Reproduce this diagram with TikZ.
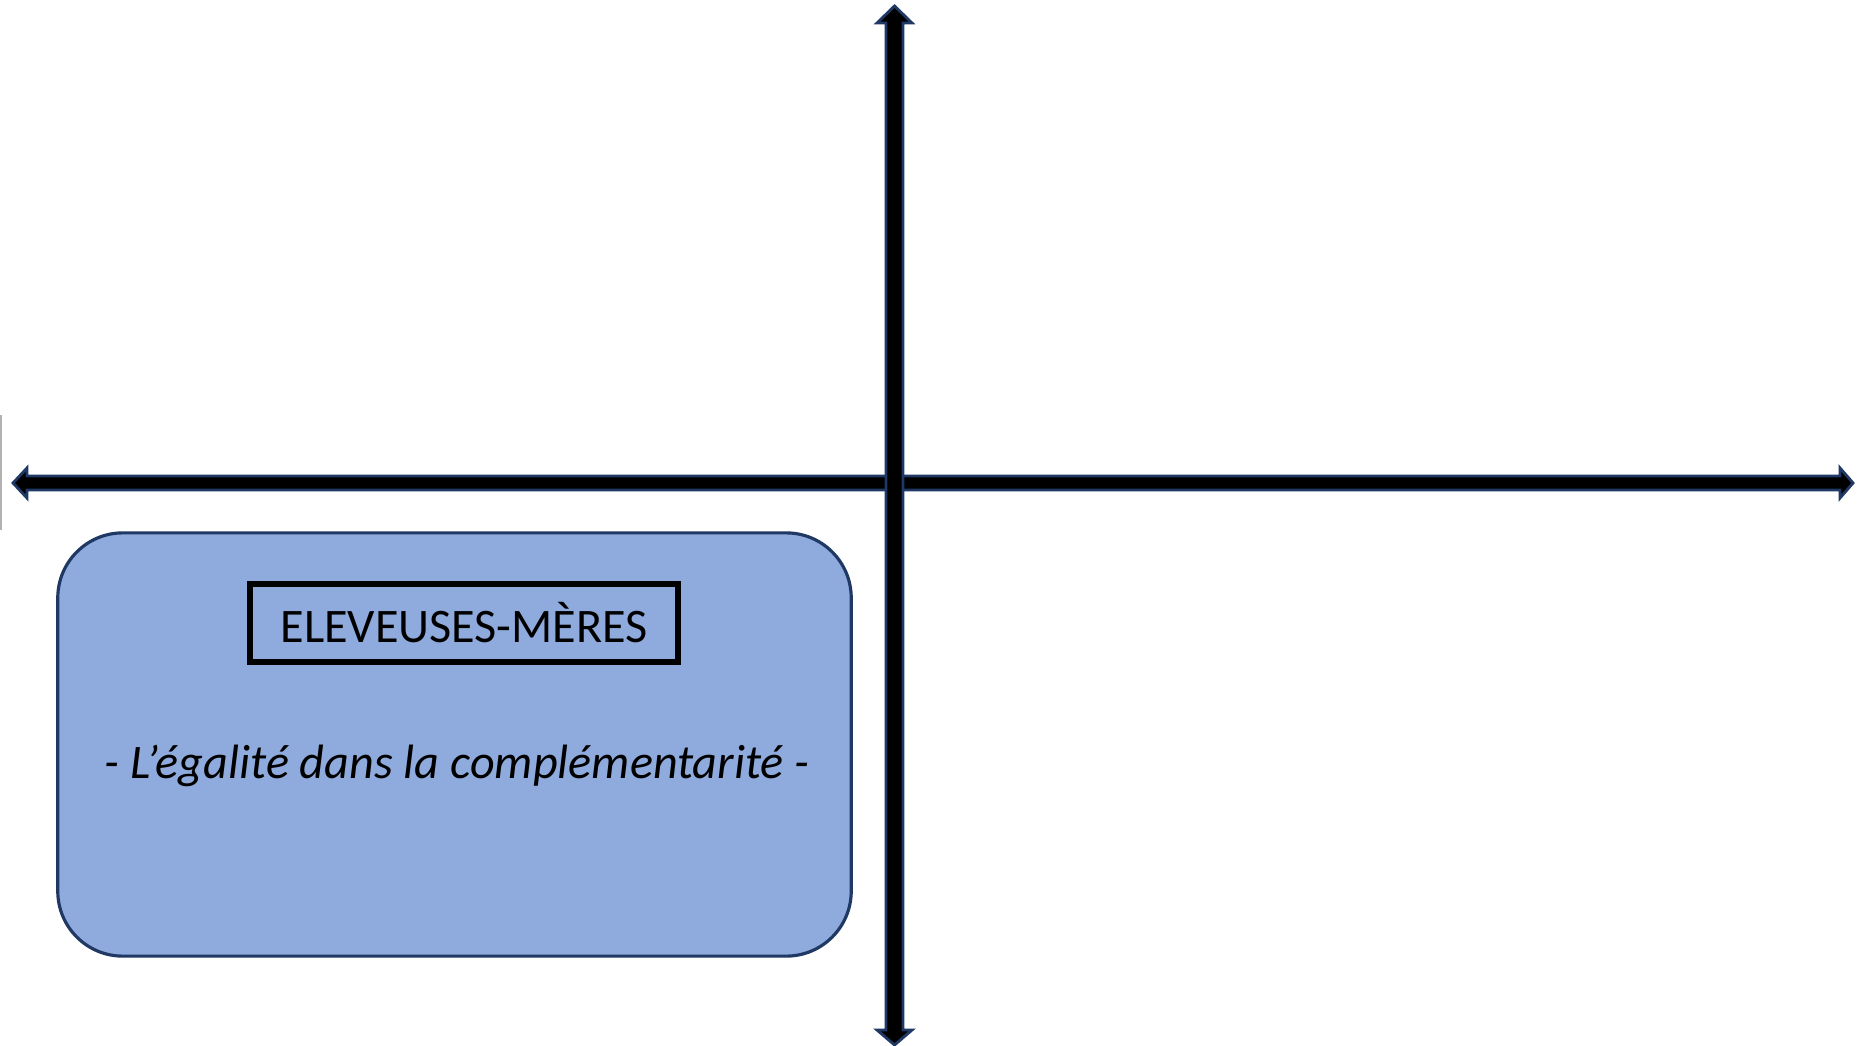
\documentclass[tikz,border=0pt]{standalone}
\usepackage{fontspec}
\setmainfont{Carlito}
\definecolor{bleucadre}{HTML}{8FAADC}
\definecolor{marine}{HTML}{1F3864}
\tikzset{
  axe/.style={fill=black, draw=marine, line width=0.8pt, line join=miter},
  cadre/.style={rectangle, rounded corners=0.65cm, fill=bleucadre, draw=marine,
    line width=0.9pt, minimum width=7.93cm, minimum height=4.23cm},
  titre/.style={rectangle, draw=black, line width=1.8pt, minimum width=4.28cm,
    minimum height=0.78cm, font=\fontsize{13.7}{16}\selectfont},
  devise/.style={font=\fontsize{13.7}{16}\selectfont\itshape}
}
\begin{document}
\begin{tikzpicture}[x=0.01cm, y=-0.01cm]
    \useasboundingbox (0,0) rectangle (1858,1046);
    % trait gris au bord gauche
    \draw[gray!60, line width=0.4pt] (1,415) -- (1,530);
    % axe horizontal
    \filldraw[axe] (13,483) -- (27,468) -- (27,476) -- (1840,476) -- (1840,468)
      -- (1853,483) -- (1840,498) -- (1840,490) -- (27,490) -- (27,498) -- cycle;
    % axe vertical (par-dessus)
    \filldraw[axe] (894.5,6) -- (912,23) -- (903,23) -- (903,1030) -- (912,1030)
      -- (894.5,1045) -- (877,1030) -- (886,1030) -- (886,23) -- (877,23) -- cycle;
    % cadre en bas a gauche
    \node[cadre] (meres) at (454.5,744.5) {};
    \node[titre] (nom) at (464,623) {ELEVEUSES-MÈRES};
    \node[devise] (egalite) at (457,766) {- L’égalité dans la complémentarité -};
  \end{tikzpicture}
\end{document}
